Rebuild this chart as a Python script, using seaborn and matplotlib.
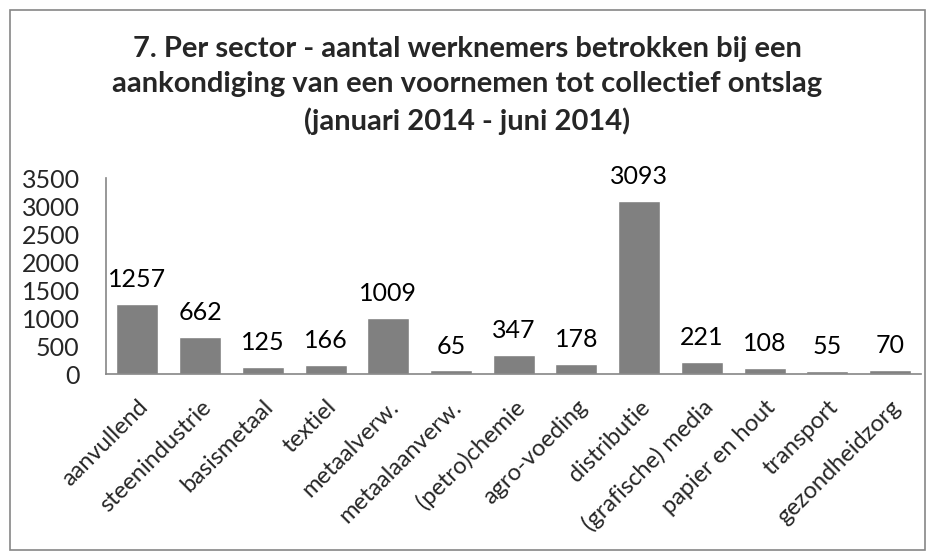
import matplotlib
matplotlib.use("Agg")
import matplotlib.pyplot as plt
import seaborn as sns
import pandas as pd
from matplotlib.patches import Rectangle

sectors = ["aanvullend", "steenindustrie", "basismetaal", "textiel", "metaalverw.",
           "metaalaanverw.", "(petro)chemie", "agro-voeding", "distributie",
           "(grafische) media", "papier en hout", "transport", "gezondheidzorg"]
workers = [1257, 662, 125, 166, 1009, 65, 347, 178, 3093, 221, 108, 55, 70]
yticks = [0, 500, 1000, 1500, 2000, 2500, 3000, 3500]

df = pd.DataFrame({"sector": sectors, "werknemers": workers})

sns.set_style("white")
plt.rcParams["font.family"] = ["Lato", "DejaVu Sans"]

fig = plt.figure(figsize=(9.35, 5.6), dpi=100)
ax = fig.add_axes([0.1134, 0.332, 0.872, 0.35])

sns.barplot(data=df, x="sector", y="werknemers", color="#808080", saturation=1,
            width=0.67, ax=ax)

for i, v in enumerate(workers):
    ax.text(i, v + 230, str(v), ha="center", va="bottom", fontsize=18, color="black")

ax.set_ylim(0, 3500)
ax.set_yticks(yticks)
ax.set_yticklabels([str(t) for t in yticks], fontsize=18)
ax.set_xlim(-0.5, len(sectors) - 0.5)
ax.set_xlabel("")
ax.set_ylabel("")
plt.setp(ax.get_xticklabels(), rotation=45, ha="right", rotation_mode="anchor", fontsize=17)
ax.tick_params(axis="y", length=0, pad=19)
ax.tick_params(axis="x", length=0, pad=16)

for s in ["top", "right"]:
    ax.spines[s].set_visible(False)
for s in ["left", "bottom"]:
    ax.spines[s].set_color("#868686")
    ax.spines[s].set_linewidth(1.2)

fig.text(0.5, 0.848,
         "7. Per sector - aantal werknemers betrokken bij een\n"
         "aankondiging van een voornemen tot collectief ontslag\n"
         "(januari 2014 - juni 2014)",
         ha="center", va="center", fontsize=21, fontweight="bold", linespacing=1.45)

fig.patches.append(Rectangle((10 / 935, 10 / 560), 915 / 935, 540 / 560,
                             transform=fig.transFigure, fill=False,
                             edgecolor="#868686", linewidth=1.2))

fig.savefig("out.png", dpi=100)
